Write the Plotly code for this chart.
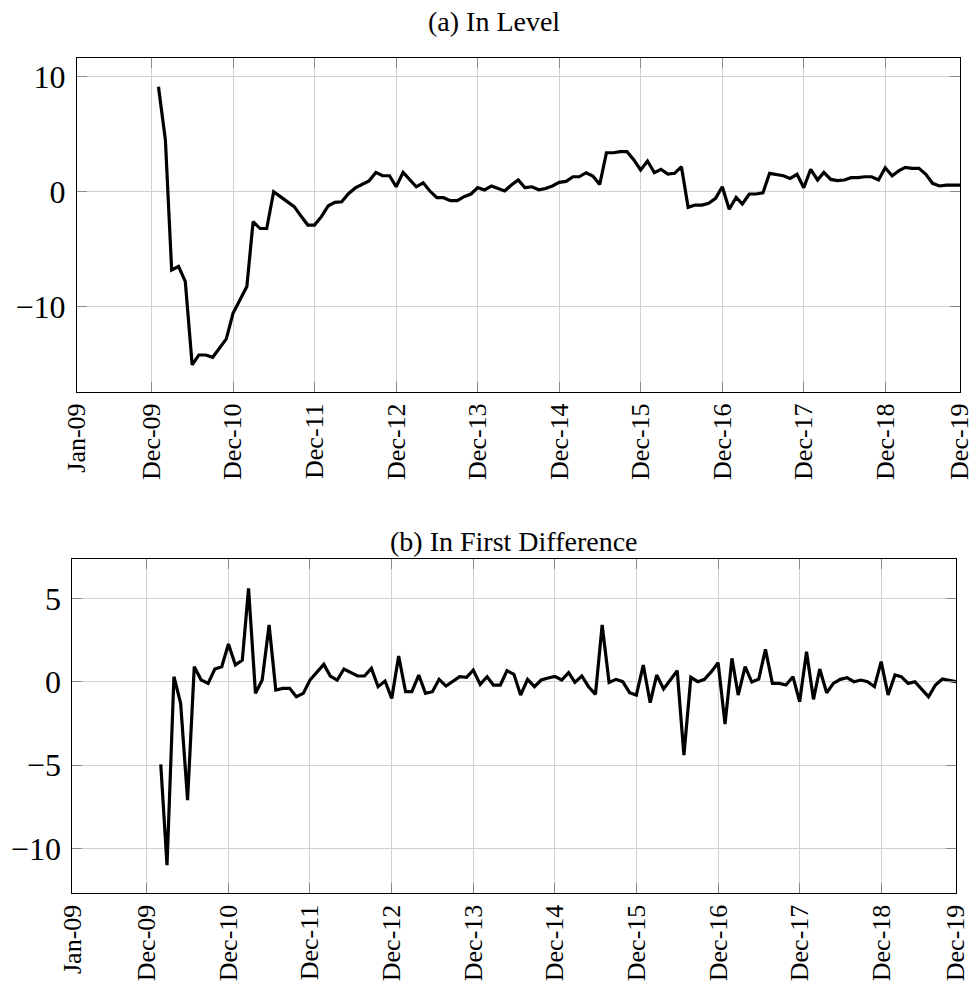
import pandas as pd
import plotly.graph_objects as go

# ---------------- data ----------------
level_months = pd.date_range("2010-01-01", "2019-11-01", freq="MS")
diff_months = pd.date_range("2010-02-01", "2019-11-01", freq="MS")

level = [
    9.13, 4.5, -6.8, -6.5, -7.8, -15.07, -14.2, -14.2, -14.4, -13.6, -12.8, -10.57,
    -9.4, -8.25, -2.6, -3.2, -3.2, 0.0, -0.43, -0.87, -1.3, -2.1, -2.9, -2.9,
    -2.17, -1.22, -0.92, -0.87, -0.17, 0.33, 0.61, 0.93, 1.68, 1.39, 1.39, 0.43,
    1.68, 1.07, 0.43, 0.78, 0.06, -0.52, -0.52, -0.78, -0.78, -0.43, -0.2, 0.35,
    0.15, 0.5, 0.29, 0.06, 0.58, 1.02, 0.35, 0.43, 0.17, 0.28, 0.5, 0.81,
    0.9, 1.3, 1.3, 1.65, 1.36, 0.64, 3.39, 3.39, 3.48, 3.48, 2.76, 1.89,
    2.67, 1.65, 1.95, 1.54, 1.6, 2.17, -1.36, -1.16, -1.16, -1.01, -0.58, 0.43,
    -1.53, -0.49, -1.07, -0.2, -0.2, -0.09, 1.6, 1.51, 1.39, 1.16, 1.51, 0.35,
    1.95, 1.02, 1.68, 1.07, 0.96, 1.02, 1.22, 1.22, 1.3, 1.3, 1.02, 2.09,
    1.39, 1.83, 2.12, 2.03, 2.03, 1.51, 0.73, 0.5, 0.58, 0.58, 0.58,
]

diff = [
    -4.96, -11.0, 0.3, -1.3, -7.1, 0.9, 0.1, -0.1, 0.76, 0.9, 2.26,
    1.0, 1.3, 5.6, -0.7, 0.1, 3.4, -0.5, -0.4, -0.4, -0.9, -0.7, 0.1,
    0.6, 1.04, 0.34, 0.1, 0.76, 0.55, 0.34, 0.34, 0.8, -0.3, 0.04, -1.0,
    1.54, -0.6, -0.6, 0.4, -0.7, -0.6, 0.14, -0.26, 0.04, 0.3, 0.26, 0.7,
    -0.16, 0.3, -0.2, -0.2, 0.66, 0.44, -0.8, 0.14, -0.3, 0.1, 0.22, 0.32,
    0.1, 0.54, -0.04, 0.34, -0.3, -0.76, 3.4, -0.04, 0.14, 0.0, -0.66, -0.8,
    1.0, -1.26, 0.4, -0.44, 0.1, 0.66, -4.4, 0.26, 0.0, 0.14, 0.6, 1.14,
    -2.54, 1.4, -0.8, 0.9, -0.02, 0.15, 1.94, -0.1, -0.1, -0.2, 0.3, -1.2,
    1.8, -1.06, 0.76, -0.66, -0.1, 0.14, 0.24, 0.0, 0.1, 0.0, -0.3, 1.2,
    -0.8, 0.4, 0.3, -0.1, 0.0, -0.46, -0.9, -0.2, 0.16, 0.08, 0.0,
]

tick_dates = ["2009-01-01", "2009-12-01", "2010-12-01", "2011-12-01", "2012-12-01",
              "2013-12-01", "2014-12-01", "2015-12-01", "2016-12-01", "2017-12-01",
              "2018-12-01", "2019-11-01"]
tick_labels = ["Jan-09", "Dec-09", "Dec-10", "Dec-11", "Dec-12", "Dec-13",
               "Dec-14", "Dec-15", "Dec-16", "Dec-17", "Dec-18", "Dec-19"]

level_yticks = [-10, 0, 10]
diff_yticks = [-10, -5, 0, 5]

titles = ["(a) In Level", "(b) In First Difference"]

# ---------------- layout helpers ----------------
W, H = 974, 999
FONT = "Liberation Serif"


def px_x(a, b):
    return [a / W, b / W]


def px_y(top, bottom):
    return [1 - bottom / H, 1 - top / H]


fig = go.Figure()
fig.add_trace(go.Scatter(x=level_months, y=level, mode="lines",
                         line=dict(color="black", width=3.2),
                         xaxis="x", yaxis="y", showlegend=False))
fig.add_trace(go.Scatter(x=diff_months, y=diff, mode="lines",
                         line=dict(color="black", width=3.2),
                         xaxis="x2", yaxis="y2", showlegend=False))

# tiny padding so the end ticks are not culled by rounding
x_range = ["2008-12-31 23:30", "2019-11-01 00:30"]

common_x = dict(
    type="date", range=x_range,
    tickmode="array", tickvals=tick_dates, ticktext=tick_labels,
    tickangle=-90, tickfont=dict(family=FONT, size=26, color="black"),
    ticklabeloverflow="allow",
    showgrid=True, gridcolor="#d0d0d0", gridwidth=1,
    showline=True, linecolor="black", linewidth=1, mirror="ticks",
    ticks="inside", ticklen=10, tickcolor="#8a8a8a", tickwidth=1,
    zeroline=False, automargin=False,
)
common_y = dict(
    tickmode="array", tickfont=dict(family=FONT, size=32, color="black"),
    ticklabeloverflow="allow",
    showgrid=True, gridcolor="#d0d0d0", gridwidth=1,
    showline=True, linecolor="black", linewidth=1, mirror="ticks",
    ticks="inside", ticklen=10, tickcolor="#8a8a8a", tickwidth=1,
    zeroline=False, ticklabelstandoff=4, automargin=False,
)

fig.update_layout(
    width=W, height=H, margin=dict(l=0, r=0, t=0, b=0, autoexpand=False),
    paper_bgcolor="white", plot_bgcolor="white",
    xaxis=dict(domain=px_x(77, 960), anchor="y", **common_x),
    yaxis=dict(domain=px_y(58, 392), anchor="x", range=[-17.42, 11.63],
               tickvals=level_yticks, **common_y),
    xaxis2=dict(domain=px_x(72.3, 956), anchor="y2", **common_x),
    yaxis2=dict(domain=px_y(559.3, 893.3), anchor="x2", range=[-12.69, 7.34],
                tickvals=diff_yticks, **common_y),
    annotations=[
        dict(text=titles[0], x=494 / W, y=1 - 22 / H, xref="paper", yref="paper",
             xanchor="center", yanchor="middle", showarrow=False,
             font=dict(family=FONT, size=28, color="black")),
        dict(text=titles[1], x=514 / W, y=1 - 541 / H, xref="paper", yref="paper",
             xanchor="center", yanchor="middle", showarrow=False,
             font=dict(family=FONT, size=28, color="black")),
    ],
)

fig.write_html("out.html")
